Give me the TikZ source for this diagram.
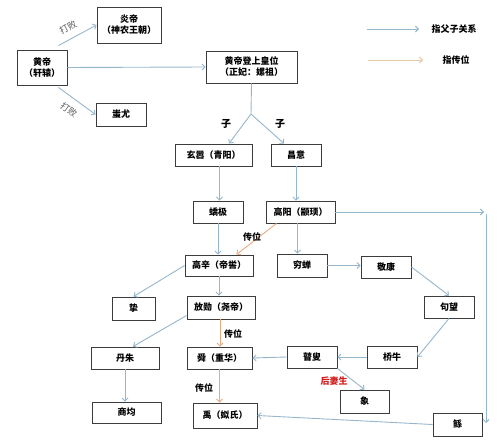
\documentclass[tikz,border=0pt]{standalone}
\usepackage{fontspec}
\setmainfont{Noto Sans CJK SC}
\usetikzlibrary{arrows.meta,calc}
\definecolor{parc}{RGB}{150,182,204}
\definecolor{passc}{RGB}{232,172,130}
\definecolor{legc}{RGB}{230,200,170}
\definecolor{boxc}{RGB}{60,60,60}
\definecolor{redc}{RGB}{210,30,30}
\tikzset{
  box/.style={draw=boxc,line width=0.9pt,inner sep=0pt,font=\fontsize{9}{11}\selectfont\bfseries,align=center},
  par/.style={draw=parc,line width=0.9pt,-{Straight Barb[length=3pt,width=6pt]}},
  pass/.style={draw=passc,line width=0.9pt,-{Straight Barb[length=3pt,width=6pt]}},
  plain/.style={draw=parc,line width=0.9pt},
  lbl/.style={font=\fontsize{9}{11}\selectfont\bfseries,inner sep=0pt},
  glbl/.style={font=\fontsize{9}{11}\selectfont,text=black!65,inner sep=0pt},
}
\begin{document}
\begin{tikzpicture}[x=1pt,y=-1pt]
\useasboundingbox (0,0) rectangle (500,441);
% boxes
\node[box,minimum width=64,minimum height=36] (yan) at (129,25) {炎帝\\（神农王朝）};
\node[box,minimum width=50,minimum height=35] (huang) at (42,67.5) {黄帝\\（轩辕）};
\node[box,minimum width=50,minimum height=23] (chi) at (121,114.5) {蚩尤};
\node[box,minimum width=91,minimum height=32] (deng) at (251.5,67) {黄帝登上皇位\\（正妃：嫘祖）};
\node[box,minimum width=77,minimum height=22] (xuan) at (213.5,155) {玄嚣（青阳）};
\node[box,minimum width=50,minimum height=22] (chang) at (296,155) {昌意};
\node[box,minimum width=50,minimum height=22] (jiao) at (218,212) {蟜极};
\node[box,minimum width=69,minimum height=22] (gaoyang) at (300.5,212) {高阳（颛顼）};
\node[box,minimum width=68,minimum height=21] (gaoxin) at (219,265.5) {高辛（帝喾）};
\node[box,minimum width=50,minimum height=23] (qiong) at (302,265.5) {穷蝉};
\node[box,minimum width=50,minimum height=22] (jing) at (386,267) {敬康};
\node[box,minimum width=50,minimum height=22] (gou) at (449,307) {句望};
\node[box,minimum width=43,minimum height=23] (zhi) at (133.5,308.5) {挚};
\node[box,minimum width=68,minimum height=23] (fang) at (221,307.5) {放勋（尧帝）};
\node[box,minimum width=68,minimum height=22] (dan) at (125,358) {丹朱};
\node[box,minimum width=65,minimum height=22] (shun) at (219.5,358) {舜（重华）};
\node[box,minimum width=50,minimum height=22] (gu) at (312,357) {瞽叟};
\node[box,minimum width=50,minimum height=22] (qiao) at (392,357) {桥牛};
\node[box,minimum width=49,minimum height=23] (xiang) at (364.5,401.5) {象};
\node[box,minimum width=69,minimum height=21] (shang) at (126.5,412.5) {商均};
\node[box,minimum width=64,minimum height=25] (yu) at (225,415.5) {禹（姒氏）};
\node[box,minimum width=49,minimum height=23] (gun) at (457.5,424.5) {鲧};
% coordinates
\coordinate (fork) at (251,114);
\coordinate (c1) at (484,212);
\coordinate (c1b) at (486,214);
\coordinate (c2) at (486,423);
\coordinate (la1) at (367,29);
\coordinate (la2) at (419,29);
\coordinate (lb1) at (368,60);
\coordinate (lb2) at (423,60);
% legend
\draw[par] (la1) -- (la2);
\draw[draw=legc,line width=0.9pt,-{Straight Barb[length=3pt,width=6pt]}] (lb1) -- (lb2);
\node[lbl] (legpar) at (454,29) {指父子关系};
\node[lbl] (legpass) at (456,60) {指传位};
% connectors
\draw[par] ([shift={(-9,-4)}]huang.north east) -- (yan.west);
\draw[par] ([shift={(-9,2)}]huang.south east) -- (chi.west);
\node[glbl,rotate=28] (db1) at (68,27) {打败};
\node[glbl,rotate=-36] (db2) at (69,110) {打败};
\draw[par] (huang.east) -- (deng.west);
\draw[plain] (deng.south) -- (fork);
\draw[par] (fork) -- ([xshift=15.5]xuan.north);
\draw[par] (fork) -- ([xshift=-12]chang.north);
\node[lbl,font=\fontsize{10}{12}\selectfont\bfseries] (zi1) at (226,124) {子};
\node[lbl,font=\fontsize{10}{12}\selectfont\bfseries] (zi2) at (280,124) {子};
\draw[par] ([xshift=6]xuan.south) -- ([xshift=6]xuan.south |- jiao.north);
\draw[par] (chang.south) -- (chang.south |- gaoyang.north);
\draw[par] (jiao.south) -- (jiao.south |- gaoxin.north);
\draw[par] ([xshift=-3]gaoyang.south) -- ([xshift=-3]gaoyang.south |- qiong.north);
\draw[pass] ([xshift=11]gaoyang.south west) -- ([xshift=-17]gaoxin.north east);
\node[lbl] (cw1) at (252,237) {传位};
\draw[par] (gaoyang.east) -- (c1);
\draw[par] (c1b) -- (c2);
\draw[par] (gaoxin.west) -- (zhi.north);
\draw[par] (gaoxin.south) -- (gaoxin.south |- fang.north);
\draw[par] ([yshift=4]fang.south west) -- ([xshift=8]dan.north);
\draw[pass] ([xshift=-1]fang.south) -- ([xshift=-1]fang.south |- shun.north);
\node[lbl] (cw2) at (233,334) {传位};
\draw[pass] (shun.south) -- (shun.south |- yu.north);
\node[lbl] (cw3) at (204,388) {传位};
\draw[par] (dan.south) -- (dan.south |- shang.north);
\draw[par] (qiong.east) -- (qiong.east -| jing.west);
\draw[par] (jing.east) -- (gou.north);
\draw[par] (gou.south) -- (qiao.east);
\draw[par] (qiao.west) -- (gu.east);
\draw[par] (gu.west) -- (shun.east);
\draw[par] (gu.south east) -- (xiang.north);
\node[lbl,text=redc] (hq) at (334,381) {后妻生};
\draw[par] (gun.west) -- (yu.east);
\end{tikzpicture}
\end{document}
